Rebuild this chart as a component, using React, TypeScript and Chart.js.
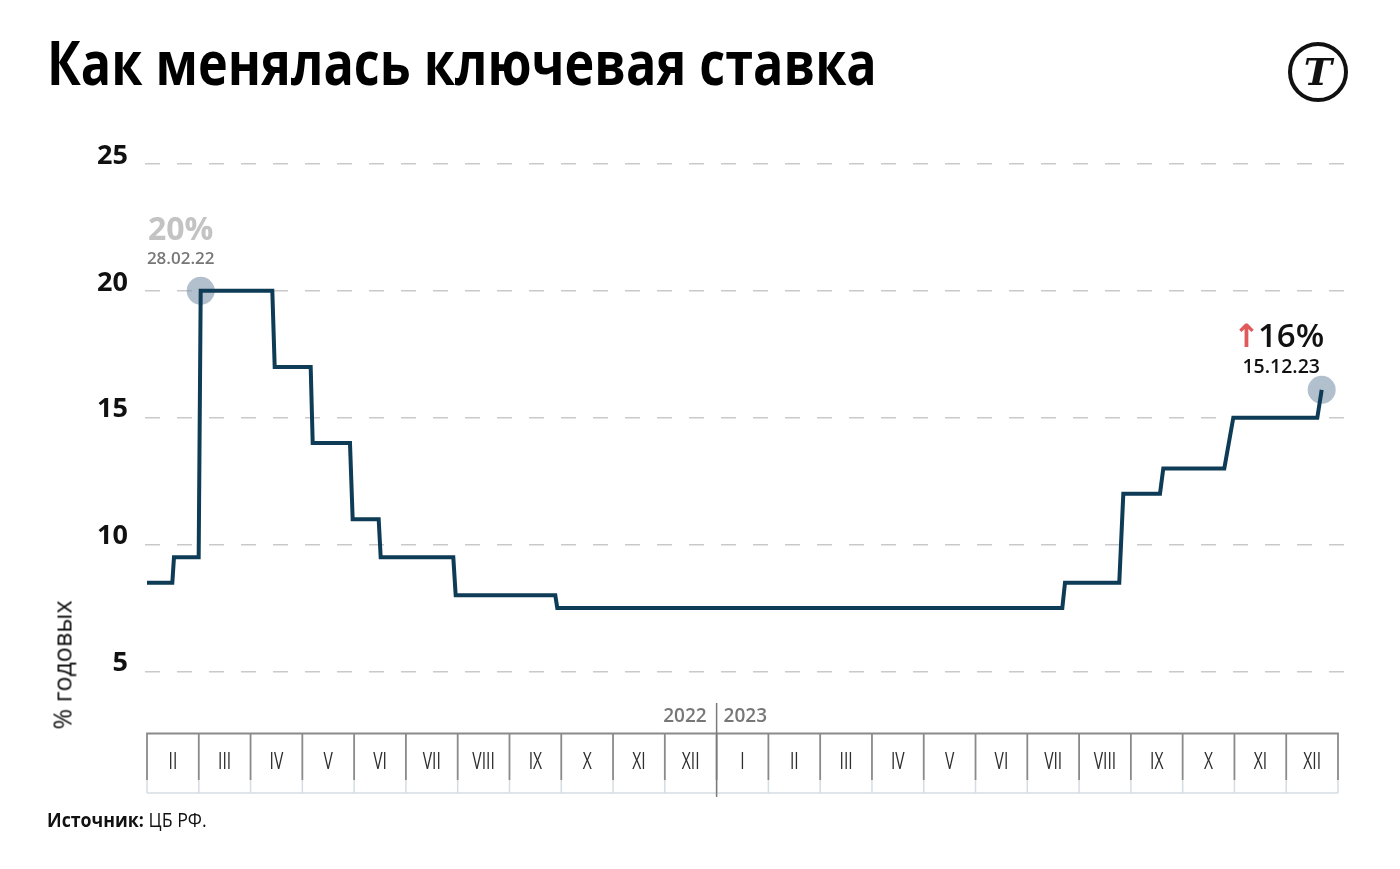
import React, { useEffect, useLayoutEffect, useRef } from "react";
import { Chart, registerables } from "chart.js";

Chart.register(...registerables);

// ---- data ----
// x = position in months from 1 Feb 2022 (0) to 1 Jan 2024 (23); y = key rate, % per year
const rateX = [0, 0.489, 0.521, 0.998, 1.037, 2.42, 2.466, 3.161, 3.2, 3.92, 3.972, 4.474, 4.513, 5.915, 5.961, 7.885, 7.923, 17.676, 17.728, 18.776, 18.854, 19.562, 19.626, 20.804, 20.978, 22.6, 22.685];
const rateY = [8.5, 8.5, 9.5, 9.5, 20, 20, 17, 17, 14, 14, 11, 11, 9.5, 9.5, 8, 8, 7.5, 7.5, 8.5, 8.5, 12, 12, 13, 13, 15, 15, 16.1];

const markerX = [1.037, 22.685];
const markerY = [20, 16.1];
const markerValue = ["20%", "16%"];
const markerDate = ["28.02.22", "15.12.23"];

const monthLabels = ["II", "III", "IV", "V", "VI", "VII", "VIII", "IX", "X", "XI", "XII", "I", "II", "III", "IV", "V", "VI", "VII", "VIII", "IX", "X", "XI", "XII"];
const yearLabels = ["2022", "2023"];
const yearBoundary = 11;
const yTicks = [5, 10, 15, 20, 25];

const title = "Как менялась ключевая ставка";
const yTitle = "% годовых";
const sourceBold = "Источник:";
const sourceText = " ЦБ РФ.";

const FONT = "'Open Sans', 'Noto Sans', sans-serif";

const overlayPlugin = {
  id: "overlay",
  afterDraw(chart: any) {
    const ctx: CanvasRenderingContext2D = chart.ctx;
    const xs = chart.scales.x;
    const ys = chart.scales.y;
    const px = (v: number) => xs.getPixelForValue(v);
    const n = monthLabels.length;
    const top = 733.5;
    const darkBottom = 780;
    const bottom = 793;

    ctx.save();
    // month strip
    ctx.lineWidth = 1.5;
    ctx.strokeStyle = "#d6dde2";
    ctx.beginPath();
    ctx.moveTo(px(0), bottom);
    ctx.lineTo(px(n), bottom);
    for (let i = 0; i <= n; i++) {
      ctx.moveTo(px(i), darkBottom);
      ctx.lineTo(px(i), bottom);
    }
    ctx.stroke();

    ctx.strokeStyle = "#8a8a8a";
    ctx.lineWidth = 1.8;
    ctx.beginPath();
    ctx.moveTo(px(0) - 0.9, top);
    ctx.lineTo(px(n) + 0.9, top);
    for (let i = 0; i <= n; i++) {
      ctx.moveTo(px(i), top);
      ctx.lineTo(px(i), darkBottom);
    }
    ctx.stroke();

    // year divider
    ctx.strokeStyle = "#7a7a7a";
    ctx.lineWidth = 1.5;
    ctx.beginPath();
    ctx.moveTo(px(yearBoundary), 703);
    ctx.lineTo(px(yearBoundary), 797);
    ctx.stroke();

    // month labels (condensed)
    ctx.fillStyle = "#2e2e2e";
    ctx.font = `400 23px ${FONT}`;
    ctx.textAlign = "center";
    ctx.textBaseline = "alphabetic";
    for (let i = 0; i < n; i++) {
      const cx = (px(i) + px(i + 1)) / 2;
      ctx.save();
      ctx.translate(cx, 768.5);
      ctx.scale(0.68, 1);
      ctx.fillText(monthLabels[i], 0, 0);
      ctx.restore();
    }

    // year labels
    ctx.fillStyle = "#777777";
    ctx.font = `600 19px ${FONT}`;
    ctx.textAlign = "right";
    ctx.fillText(yearLabels[0], px(yearBoundary) - 10, 722);
    ctx.textAlign = "left";
    ctx.fillText(yearLabels[1], px(yearBoundary) + 7, 722);

    // annotation: first marker
    const m0x = px(markerX[0]);
    const m0y = ys.getPixelForValue(markerY[0]);
    ctx.textAlign = "center";
    ctx.fillStyle = "#c3c3c3";
    ctx.font = `700 32px ${FONT}`;
    ctx.fillText(markerValue[0], m0x - 20, m0y - 50.5);
    ctx.fillStyle = "#777777";
    ctx.font = `600 17px ${FONT}`;
    ctx.fillText(markerDate[0], m0x - 20, m0y - 26.5);

    // annotation: last marker
    const m1x = px(markerX[1]);
    const m1y = ys.getPixelForValue(markerY[1]);
    ctx.textAlign = "right";
    ctx.fillStyle = "#111111";
    ctx.font = `600 33px ${FONT}`;
    const vx = m1x + 2.5;
    ctx.fillText(markerValue[1], vx, m1y - 43);
    const w = ctx.measureText(markerValue[1]).width;
    ctx.fillStyle = "#e05a5c";
    ctx.font = `700 32px 'DejaVu Sans', sans-serif`;
    ctx.fillText("↑", vx - w + 2, m1y - 43);
    ctx.textAlign = "center";
    ctx.fillStyle = "#111111";
    ctx.font = `600 19.5px ${FONT}`;
    ctx.fillText(markerDate[1], m1x - 40.5, m1y - 17);
    ctx.restore();
  },
};

function ScaledText(props: { width: number; style: React.CSSProperties; children: React.ReactNode }) {
  const ref = useRef<HTMLSpanElement>(null);
  useLayoutEffect(() => {
    const el = ref.current;
    if (!el) return;
    const w = el.offsetWidth;
    if (w > 0) el.style.transform = `scaleX(${props.width / w})`;
  });
  return (
    <span
      ref={ref}
      style={{ display: "inline-block", whiteSpace: "nowrap", transformOrigin: "0 0", position: "absolute", ...props.style }}
    >
      {props.children}
    </span>
  );
}

export default function App() {
  const canvasRef = useRef<HTMLCanvasElement>(null);

  useEffect(() => {
    const canvas = canvasRef.current;
    if (!canvas) return;
    const chart = new Chart(canvas, {
      type: "line",
      data: {
        datasets: [
          {
            type: "line",
            data: rateX.map((x, i) => ({ x, y: rateY[i] })),
            borderColor: "#0e3b55",
            borderWidth: 4,
            pointRadius: 0,
            fill: false,
            tension: 0,
            borderJoinStyle: "miter",
            order: 1,
            clip: false,
          } as any,
          {
            type: "scatter",
            data: markerX.map((x, i) => ({ x, y: markerY[i] })),
            pointRadius: 14,
            pointHoverRadius: 14,
            pointBackgroundColor: "rgba(126,148,170,0.6)",
            pointBorderWidth: 0,
            order: 2,
            clip: false,
          } as any,
        ],
      },
      options: {
        responsive: false,
        animation: false,
        events: [],
        layout: { padding: { top: 164, bottom: 134.1, left: 0, right: 52 } },
        plugins: {
          legend: { display: false },
          tooltip: { enabled: false },
        },
        scales: {
          x: {
            type: "linear",
            min: -0.0386,
            max: 23.193,
            display: false,
          },
          y: {
            type: "linear",
            min: 2.5,
            max: 25,
            afterFit: (scale: any) => {
              scale.width = 145;
            },
            afterBuildTicks: (scale: any) => {
              scale.ticks = yTicks.map((v) => ({ value: v }));
            },
            grid: {
              color: "#c9c9c9",
              lineWidth: 1.5,
              drawTicks: false,
            },
            border: { display: false, dash: [15, 17] },
            ticks: {
              color: "#111111",
              padding: 17,
              labelOffset: -8,
              font: { family: FONT, size: 27, weight: "700" as any },
            },
          },
        },
      } as any,
      plugins: [overlayPlugin],
    });
    return () => chart.destroy();
  }, []);

  return (
    <div style={{ position: "absolute", left: 0, top: 0, width: 1400, height: 869, background: "#ffffff", overflow: "hidden" }}>
      <canvas ref={canvasRef} width={1400} height={869} style={{ position: "absolute", left: 0, top: 0, width: 1400, height: 869 }} />
      <ScaledText
        width={830}
        style={{ left: 47, top: 32, fontFamily: FONT, fontWeight: 700, fontSize: 60, lineHeight: "60px", color: "#000" }}
      >
        {title}
      </ScaledText>
      <div
        style={{
          position: "absolute",
          left: 1288,
          top: 42,
          width: 60,
          height: 60,
          boxSizing: "border-box",
          border: "4px solid #111",
          borderRadius: "50%",
          display: "flex",
          alignItems: "center",
          justifyContent: "center",
          fontFamily: "'DejaVu Serif', serif",
          fontStyle: "italic",
          fontWeight: 700,
          fontSize: 38,
          color: "#111",
          lineHeight: 1,
        }}
      >
        Т
      </div>
      <div
        style={{
          position: "absolute",
          left: 62,
          top: 665,
          transform: "translate(-50%, -50%) rotate(-90deg)",
          fontFamily: FONT,
          fontSize: 25,
          color: "#111",
          whiteSpace: "nowrap",
          lineHeight: 1,
        }}
      >
        {yTitle}
      </div>
      <ScaledText
        width={160}
        style={{ left: 47, top: 810, fontFamily: FONT, fontSize: 20, lineHeight: "20px", color: "#111" }}
      >
        <b style={{ fontWeight: 700 }}>{sourceBold}</b>
        {sourceText}
      </ScaledText>
    </div>
  );
}
